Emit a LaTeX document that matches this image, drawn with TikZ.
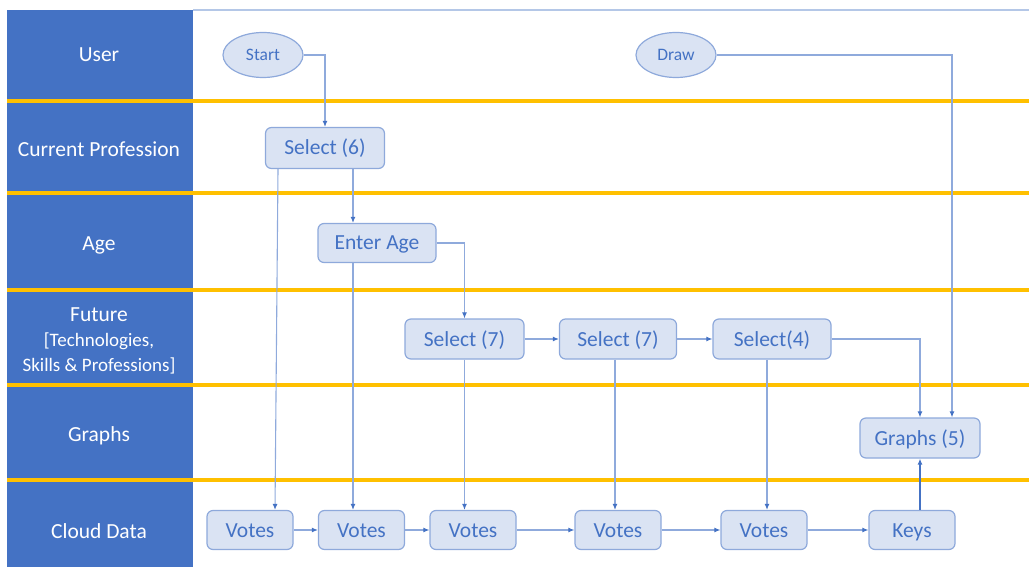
\documentclass[tikz,border=0pt]{standalone}
\usepackage{fontspec}
\setmainfont{Carlito}
\usetikzlibrary{arrows.meta,shapes.geometric,calc}
\definecolor{lanebl}{HTML}{4472C4}
\definecolor{nodefill}{HTML}{DAE3F3}
\definecolor{nodeline}{HTML}{8EA9DB}
\definecolor{connc}{HTML}{8FAADC}
\definecolor{gold}{HTML}{FFC000}
\definecolor{topline}{HTML}{B4C7E7}
\begin{document}
\begin{tikzpicture}[x=1pt,y=-1pt,
 box/.style={draw=nodeline,fill=nodefill,rounded corners=6pt,line width=1.2pt,text=lanebl,font=\fontsize{21.5}{25}\selectfont,minimum height=39pt,inner sep=0pt,text height=16pt,text depth=2pt},
 oval/.style={ellipse,draw=nodeline,fill=nodefill,line width=1.2pt,text=lanebl,font=\fontsize{17.5}{20}\selectfont,minimum width=80pt,minimum height=45pt,inner sep=0pt},
 lanelabel/.style={text=white,font=\fontsize{21.5}{25}\selectfont,align=center},
 flow/.style={draw=connc,line width=1.1pt,-{Latex[length=6pt,width=5pt,color=lanebl]}},
 sep/.style={draw=gold,line width=4pt}]
\useasboundingbox (0,0) rectangle (1029,567);
% lanes
\fill[lanebl] (7,10) rectangle (193,567);
\draw[topline,line width=1.5pt] (193,10) -- (1029,10);
\foreach \yy in {101,193,290,385,480} {\draw[sep] (7,\yy) -- (1029,\yy);}
\node[lanelabel] (lUser) at (99,55) {User};
\node[lanelabel] (lProf) at (99,149) {Current Profession};
\node[lanelabel] (lAge) at (99,245) {Age};
\node[lanelabel,font=\fontsize{19}{25}\selectfont] (lFut) at (99,341) {{\fontsize{21.5}{25}\selectfont Future}\\\relax[Technologies,\\Skills \& Professions]};
\node[lanelabel] (lGraphs) at (99,436) {Graphs};
\node[lanelabel] (lCloud) at (99,531) {Cloud Data};
% nodes
\node[oval] (start) at (263,55) {Start};
\node[oval] (drawn) at (676,55) {Draw};
\node[box,minimum width=119pt,minimum height=41pt] (sel6) at (325,148) {Select (6)};
\node[box,minimum width=118pt] (age) at (377,243) {Enter Age};
\node[box,minimum width=119pt,minimum height=40pt] (sel7a) at (464.5,339) {Select (7)};
\node[box,minimum width=117pt,minimum height=40pt] (sel7b) at (618,339) {Select (7)};
\node[box,minimum width=118pt,minimum height=40pt] (sel4) at (772,339) {Select(4)};
\node[box,minimum width=120pt,minimum height=40pt] (graphs) at (920,438) {Graphs (5)};
\node[box,minimum width=86pt] (v1) at (250,530) {Votes};
\node[box,minimum width=86pt] (v2) at (361.5,530) {Votes};
\node[box,minimum width=86pt] (v3) at (473,530) {Votes};
\node[box,minimum width=86pt] (v4) at (618,530) {Votes};
\node[box,minimum width=86pt] (v5) at (764,530) {Votes};
\node[box,minimum width=86pt] (keys) at (912,530) {Keys};
% connectors
\draw[flow] (start.east) -| (sel6.north);
\draw[flow] ([xshift=-47pt]sel6.south) -- ([xshift=25pt]v1.north);
\draw[flow] ([xshift=28pt]sel6.south) -- ([xshift=-24pt]age.north);
\draw[flow] ([xshift=-24pt]age.south) -- ([xshift=-8.5pt]v2.north);
\draw[flow] (age.east) -| (sel7a.north);
\draw[flow] (sel7a.east) -- (sel7b.west);
\draw[flow] (sel7b.east) -- (sel4.west);
\draw[flow] (sel7a.south) -- ([xshift=-8.5pt]v3.north);
\draw[flow] ([xshift=-3pt]sel7b.south) -- ([xshift=-3pt]v4.north);
\draw[flow] ([xshift=-5pt]sel4.south) -- ([xshift=3pt]v5.north);
\draw[flow] (sel4.east) -| (graphs.north);
\draw[flow] (drawn.east) -| ([xshift=32pt]graphs.north);
\draw[flow,draw=lanebl,line width=1.6pt] ([xshift=8pt]keys.north) -- (graphs.south);
\draw[flow] (v1) -- (v2);
\draw[flow] (v2) -- (v3);
\draw[flow] (v3) -- (v4);
\draw[flow] (v4) -- (v5);
\draw[flow] (v5) -- (keys);
\end{tikzpicture}
\end{document}
